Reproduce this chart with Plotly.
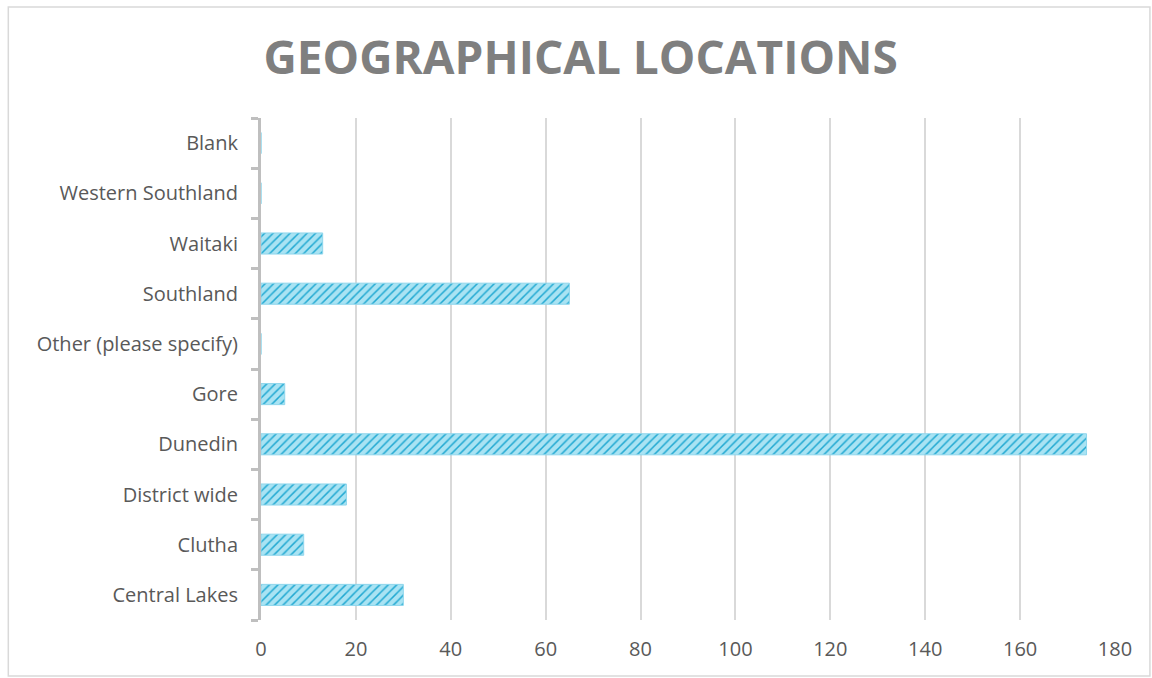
import plotly.graph_objects as go

# Number of projects by location
locations = [
    "Central Lakes", "Clutha", "District wide", "Dunedin", "Gore",
    "Other (please specify)", "Southland", "Waitaki", "Western Southland", "Blank",
]
counts = [30, 9, 18, 174, 5, 0, 65, 13, 0, 0]

x_ticks = [0, 20, 40, 60, 80, 100, 120, 140, 160, 180]

title_text = "GEOGRAPHICAL LOCATIONS"

fig = go.Figure()

fig.add_trace(go.Bar(
    y=locations,
    x=counts,
    orientation="h",
    marker=dict(
        color="#a6e2f2",
        line=dict(color="#8fd6ec", width=1),
        pattern=dict(
            shape="/",
            fgcolor="#22a9d2",
            bgcolor="#a9e3f3",
            size=6,
            solidity=0.25,
            fillmode="replace",
        ),
    ),
    hoverinfo="x+y",
))

# Outer chart border
fig.add_shape(
    type="rect", xref="paper", yref="paper",
    x0=-0.2959, x1=1.0409, y0=-0.1116, y1=1.2211,
    line=dict(color="#d9d9d9", width=1.5),
    fillcolor="rgba(0,0,0,0)", layer="below",
)

fig.update_layout(
    width=1152,
    height=678,
    paper_bgcolor="white",
    plot_bgcolor="white",
    margin=dict(l=261, r=37, t=118, b=58),
    showlegend=False,
    bargap=0.58,
    title=dict(
        text="<b>" + title_text + "</b>",
        x=0.504,
        xref="container",
        xanchor="center",
        y=0.915,
        yanchor="middle",
        font=dict(family="Open Sans", size=46, color="#7f7f7f"),
    ),
    font=dict(family="Open Sans", size=20, color="#595959"),
    xaxis=dict(
        range=[0, 180],
        tickvals=x_ticks,
        ticktext=[str(v) for v in x_ticks],
        showgrid=True,
        gridcolor="#d9d9d9",
        gridwidth=2,
        zeroline=False,
        showline=False,
        ticks="",
        ticklabelstandoff=15,
        tickfont=dict(family="Open Sans", size=20, color="#595959"),
    ),
    yaxis=dict(
        type="category",
        categoryorder="array",
        categoryarray=locations,
        range=[-0.5, len(locations) - 0.5],
        showgrid=False,
        zeroline=False,
        showline=True,
        linecolor="#bfbfbf",
        linewidth=3,
        ticks="outside",
        tickson="boundaries",
        ticklen=7,
        tickwidth=3,
        tickcolor="#bfbfbf",
        ticklabelstandoff=16,
        tickfont=dict(family="Open Sans", size=20, color="#595959"),
    ),
)

fig.write_html("out.html")
